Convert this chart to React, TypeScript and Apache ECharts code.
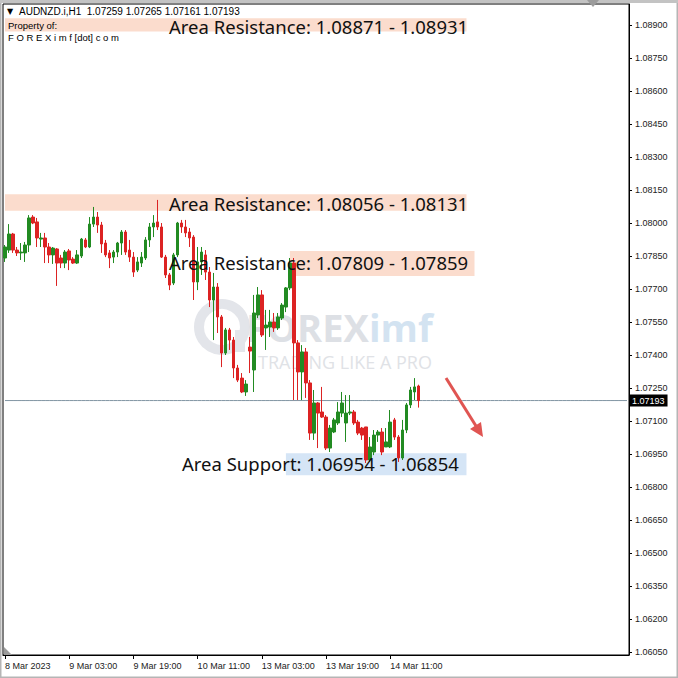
import React, { useEffect, useRef } from "react";
import * as echarts from "echarts";

// ---------- data ----------
const headerText = "AUDNZD.i,H1  1.07259 1.07265 1.07161 1.07193";
const tickLabels = ["8 Mar 2023", "9 Mar 03:00", "9 Mar 19:00", "10 Mar 11:00", "13 Mar 03:00", "13 Mar 19:00", "14 Mar 11:00"];
const barsPerTick = 16;
const emptyBarsRight = 52;
const priceTicks = [1.0605, 1.062, 1.0635, 1.065, 1.0665, 1.068, 1.0695, 1.071, 1.0725, 1.074, 1.0755, 1.077, 1.0785, 1.08, 1.0815, 1.083, 1.0845, 1.086, 1.0875, 1.089];
const yMin = 1.060364;
const yMax = 1.089955;
const lastPrice = 1.07193;

// [open, close, low, high]
const candles: number[][] = [
  [1.07841, 1.07891, 1.07823, 1.079],
  [1.07877, 1.0795, 1.07864, 1.07995],
  [1.0795, 1.07877, 1.07864, 1.07955],
  [1.07877, 1.07864, 1.0785, 1.07891],
  [1.07864, 1.07868, 1.07832, 1.07909],
  [1.07864, 1.079, 1.07823, 1.07914],
  [1.079, 1.08023, 1.07868, 1.08036],
  [1.08027, 1.08, 1.07995, 1.08036],
  [1.08005, 1.07932, 1.07891, 1.08023],
  [1.07927, 1.07932, 1.07891, 1.07955],
  [1.07932, 1.07891, 1.07818, 1.07955],
  [1.07891, 1.07855, 1.07818, 1.07909],
  [1.07855, 1.07886, 1.07814, 1.07891],
  [1.07882, 1.07818, 1.07714, 1.07886],
  [1.07841, 1.07818, 1.07795, 1.07855],
  [1.07818, 1.07868, 1.07795, 1.07877],
  [1.07873, 1.07832, 1.07786, 1.07882],
  [1.07836, 1.07818, 1.07814, 1.07845],
  [1.07818, 1.07855, 1.07814, 1.07877],
  [1.0785, 1.07927, 1.07841, 1.07932],
  [1.07923, 1.07891, 1.07886, 1.07932],
  [1.07891, 1.07995, 1.07886, 1.08027],
  [1.07995, 1.08027, 1.07982, 1.08073],
  [1.08027, 1.07991, 1.07955, 1.0805],
  [1.07991, 1.07905, 1.07864, 1.08005],
  [1.07909, 1.07855, 1.07845, 1.07923],
  [1.07864, 1.07841, 1.07795, 1.07877],
  [1.07845, 1.07868, 1.07818, 1.07877],
  [1.07868, 1.07909, 1.07845, 1.07914],
  [1.07909, 1.07959, 1.07855, 1.07968],
  [1.07959, 1.07868, 1.07855, 1.07968],
  [1.07877, 1.07845, 1.07823, 1.07923],
  [1.07845, 1.07777, 1.07755, 1.07868],
  [1.07786, 1.07823, 1.07777, 1.07845],
  [1.07818, 1.07845, 1.078, 1.07868],
  [1.07841, 1.07923, 1.07832, 1.07936],
  [1.07923, 1.07982, 1.07891, 1.08],
  [1.07982, 1.08, 1.07936, 1.08036],
  [1.08005, 1.07982, 1.07968, 1.08105],
  [1.07982, 1.07845, 1.07841, 1.08],
  [1.07845, 1.07764, 1.0775, 1.07855],
  [1.07764, 1.07718, 1.07695, 1.07773],
  [1.07727, 1.07855, 1.07718, 1.07864],
  [1.07855, 1.08, 1.07845, 1.08005],
  [1.08, 1.07982, 1.07955, 1.08014],
  [1.07982, 1.07955, 1.07936, 1.08014],
  [1.07959, 1.07932, 1.07891, 1.07977],
  [1.07936, 1.07732, 1.0765, 1.07945],
  [1.07732, 1.07823, 1.07695, 1.07891],
  [1.07823, 1.07868, 1.07764, 1.07891],
  [1.07855, 1.07777, 1.07741, 1.07877],
  [1.07777, 1.0765, 1.07618, 1.078],
  [1.0765, 1.07709, 1.07468, 1.07773],
  [1.07709, 1.07573, 1.075, 1.07727],
  [1.07573, 1.07409, 1.07345, 1.07582],
  [1.07409, 1.07514, 1.074, 1.07523],
  [1.07514, 1.07468, 1.07423, 1.07523],
  [1.07468, 1.07341, 1.07295, 1.07482],
  [1.07341, 1.07286, 1.07277, 1.07355],
  [1.07295, 1.07232, 1.07227, 1.07318],
  [1.07232, 1.07268, 1.07214, 1.07286],
  [1.07436, 1.07418, 1.07318, 1.07482],
  [1.07332, 1.07591, 1.07232, 1.07673],
  [1.07582, 1.07673, 1.07568, 1.07709],
  [1.07673, 1.07491, 1.07482, 1.07695],
  [1.07523, 1.07536, 1.07423, 1.07605],
  [1.07527, 1.0755, 1.07482, 1.07605],
  [1.0755, 1.07523, 1.07505, 1.07591],
  [1.07523, 1.07573, 1.07514, 1.07591],
  [1.07568, 1.07627, 1.07559, 1.07636],
  [1.07618, 1.07705, 1.07595, 1.07709],
  [1.07705, 1.07818, 1.07695, 1.07841],
  [1.07818, 1.07455, 1.07195, 1.07841],
  [1.07455, 1.07323, 1.07195, 1.07468],
  [1.07323, 1.07414, 1.07195, 1.07445],
  [1.07414, 1.07273, 1.07205, 1.07432],
  [1.07273, 1.07045, 1.07014, 1.07286],
  [1.07045, 1.07182, 1.07014, 1.07241],
  [1.07182, 1.07136, 1.06977, 1.07186],
  [1.07141, 1.07118, 1.07114, 1.07255],
  [1.07118, 1.06977, 1.06968, 1.07127],
  [1.06977, 1.07068, 1.06959, 1.07082],
  [1.0705, 1.07105, 1.07045, 1.07114],
  [1.07091, 1.07141, 1.07082, 1.07186],
  [1.07136, 1.07182, 1.07118, 1.07232],
  [1.07091, 1.07136, 1.07005, 1.07218],
  [1.07136, 1.07141, 1.07127, 1.07218],
  [1.07141, 1.07091, 1.07082, 1.0715],
  [1.07095, 1.07045, 1.07036, 1.07105],
  [1.07068, 1.07036, 1.07014, 1.07073],
  [1.07073, 1.06923, 1.06909, 1.07073],
  [1.06923, 1.06982, 1.06914, 1.07027],
  [1.06959, 1.07036, 1.06945, 1.07059],
  [1.07036, 1.0705, 1.07005, 1.07059],
  [1.0705, 1.06959, 1.06945, 1.07068],
  [1.06982, 1.07005, 1.06982, 1.07068],
  [1.06982, 1.07095, 1.06977, 1.0715],
  [1.07105, 1.07027, 1.07014, 1.07114],
  [1.07027, 1.06932, 1.06914, 1.07036],
  [1.06932, 1.07059, 1.06923, 1.07105],
  [1.07059, 1.07173, 1.07045, 1.07182],
  [1.07173, 1.07241, 1.07159, 1.07255],
  [1.07232, 1.07255, 1.07195, 1.07295],
  [1.07259, 1.07193, 1.07161, 1.07265],
];

// zones: [low, high, fromBar, toBar]
const zoneLabels = [
  "Area Resistance: 1.08871 - 1.08931",
  "Area Resistance: 1.08056 - 1.08131",
  "Area Resistance: 1.07809 - 1.07859",
  "Area Support: 1.06954 - 1.06854",
];
const zoneLows = [1.08871, 1.08056, 1.07759, 1.06854];
const zoneHighs = [1.08931, 1.08131, 1.07873, 1.06954];
const zoneFrom = [0, 0, 71, 70];
const zoneTo = [115, 115, 117, 115];

const GREEN = "#228b22";
const RED = "#dc2323";
const PINK = "#fbdccd";
const BLUE = "#d5e5f6";

export default function App() {
  const ref = useRef<HTMLDivElement>(null);
  useEffect(() => {
    if (!ref.current) return;
    document.body.style.margin = "0";
    const chart = echarts.init(ref.current, null, { renderer: "svg" });
    const total = candles.length + emptyBarsRight;
    const categories = Array.from({ length: total }, (_, i) => String(i));
    const showTick = (idx: number) => idx % barsPerTick === 0 && idx < candles.length;
    const zoneColors = [PINK, PINK, PINK, BLUE];
    const markAreaData = zoneLows.map((lo, k) => [
      { xAxis: String(zoneFrom[k]), yAxis: zoneHighs[k], itemStyle: { color: zoneColors[k] } },
      { xAxis: String(zoneTo[k]), yAxis: lo },
    ]);
    const textPos = [
      [169, 26],
      [169, 203],
      [169, 262],
      [182, 463],
    ];
    const zoneTexts = zoneLabels.map((t, k) => ({
      type: "text",
      x: textPos[k][0],
      y: textPos[k][1],
      z: 20,
      style: { text: t, fill: "#111", font: "18.5px 'Noto Sans'", textVerticalAlign: "middle" },
    }));

    chart.setOption({
      animation: false,
      backgroundColor: "#fff",
      grid: { left: 3, top: 4, right: 49, bottom: 23, show: true, borderColor: "#000", borderWidth: 1, backgroundColor: "transparent" },
      xAxis: {
        type: "category",
        data: categories,
        boundaryGap: true,
        axisLine: { show: true, lineStyle: { color: "#000", width: 1 } },
        axisTick: { show: true, alignWithLabel: true, interval: (i: number) => showTick(i), length: 4, lineStyle: { color: "#000" } },
        axisLabel: {
          show: true,
          interval: (i: number) => showTick(i),
          formatter: (_v: string, i: number) => tickLabels[Math.round(i / barsPerTick)] ?? "",
          align: "left",
          margin: 6,
          color: "#222",
          fontSize: 9,
          fontFamily: "'Liberation Sans'",
        },
        splitLine: { show: false },
      },
      yAxis: {
        type: "value",
        position: "right",
        min: yMin,
        max: yMax,
        scale: true,
        axisLine: { show: true, lineStyle: { color: "#000", width: 1 } },
        axisTick: { show: true, customValues: priceTicks, length: 3, lineStyle: { color: "#000" } },
        axisLabel: {
          show: true,
          customValues: priceTicks,
          formatter: (v: number) => v.toFixed(5),
          margin: 6,
          color: "#222",
          fontSize: 9,
          fontFamily: "'Liberation Sans'",
        },
        splitLine: { show: false },
      },
      series: [
        {
          type: "candlestick",
          data: candles,
          barWidth: 3,
          z: 3,
          itemStyle: { color: GREEN, color0: RED, borderColor: GREEN, borderColor0: RED, borderWidth: 1 },
          markArea: { silent: true, data: markAreaData, label: { show: false } },
        },
        {
          type: "line",
          data: categories.map(() => lastPrice),
          symbol: "none",
          silent: true,
          z: 2,
          lineStyle: { color: "#8295a3", width: 1, type: "solid" },
          endLabel: {
            show: true,
            distance: 2,
            formatter: () => lastPrice.toFixed(5),
            backgroundColor: "#000",
            color: "#fff",
            fontSize: 9,
            fontFamily: "'Liberation Sans'",
            padding: [2, 3, 1, 3],
          },
        },
      ],
      graphic: [
        // frame
        { type: "rect", shape: { x: 0.5, y: 0.5, width: 677, height: 677 }, style: { fill: "none", stroke: "#b5b5b5", lineWidth: 2 }, z: 30 },
        { type: "rect", shape: { x: 0, y: 0, width: 678, height: 3 }, style: { fill: "#c3c3c3" }, z: 30 },
        { type: "polygon", shape: { points: [[587, 0], [599, 0], [593, 7]] }, style: { fill: "#9c9c9c" }, z: 31 },
        { type: "polygon", shape: { points: [[4, 647], [4, 655], [12, 655]] }, style: { fill: "#9c9c9c" }, z: 31 },
        // watermark
        { type: "circle", shape: { cx: 222, cy: 327, r: 23 }, style: { fill: "none", stroke: "#e3e5ea", lineWidth: 10 }, z: 1 },
        { type: "rect", shape: { x: 235, y: 330, width: 10, height: 22 }, style: { fill: "#e3e5ea" }, z: 1 },
        { type: "text", x: 246, y: 327, z: 1, style: { text: "FOREX", fill: "#dde0e5", font: "bold 38px 'Open Sans'", lineHeight: 34, textVerticalAlign: "middle" } },
        { type: "text", x: 369, y: 327, z: 1, style: { text: "imf", fill: "#d3e3f1", font: "bold 38px 'Open Sans'", lineHeight: 34, textVerticalAlign: "middle" } },
        { type: "text", x: 258, y: 362, z: 1, style: { text: "TRADING LIKE A PRO", fill: "#e0e2e6", font: "18px 'Open Sans'", lineHeight: 18, textVerticalAlign: "middle" } },
        // header
        { type: "text", x: 7, y: 11, z: 25, style: { text: "▼", fill: "#000", font: "8px 'DejaVu Sans'", textVerticalAlign: "middle" } },
        { type: "text", x: 19, y: 11, z: 25, style: { text: headerText, fill: "#000", font: "10px 'Liberation Sans'", textVerticalAlign: "middle" } },
        { type: "text", x: 8, y: 25, z: 25, style: { text: "Property of:", fill: "#000", font: "9.5px 'Liberation Sans'", textVerticalAlign: "middle" } },
        { type: "text", x: 8, y: 37, z: 25, style: { text: "F O R E X i m f [dot] c o m", fill: "#000", font: "9.5px 'Liberation Sans'", textVerticalAlign: "middle" } },
        // arrow
        { type: "line", shape: { x1: 446, y1: 378, x2: 476, y2: 426 }, style: { stroke: "#e05552", lineWidth: 3 }, z: 25 },
        { type: "polygon", shape: { points: [[483, 437], [470, 429], [481, 422]] }, style: { fill: "#e05552" }, z: 25 },
        ...zoneTexts,
      ],
    });
    return () => chart.dispose();
  }, []);
  return <div ref={ref} style={{ position: "fixed", left: 0, top: 0, width: 678, height: 678 }} />;
}
